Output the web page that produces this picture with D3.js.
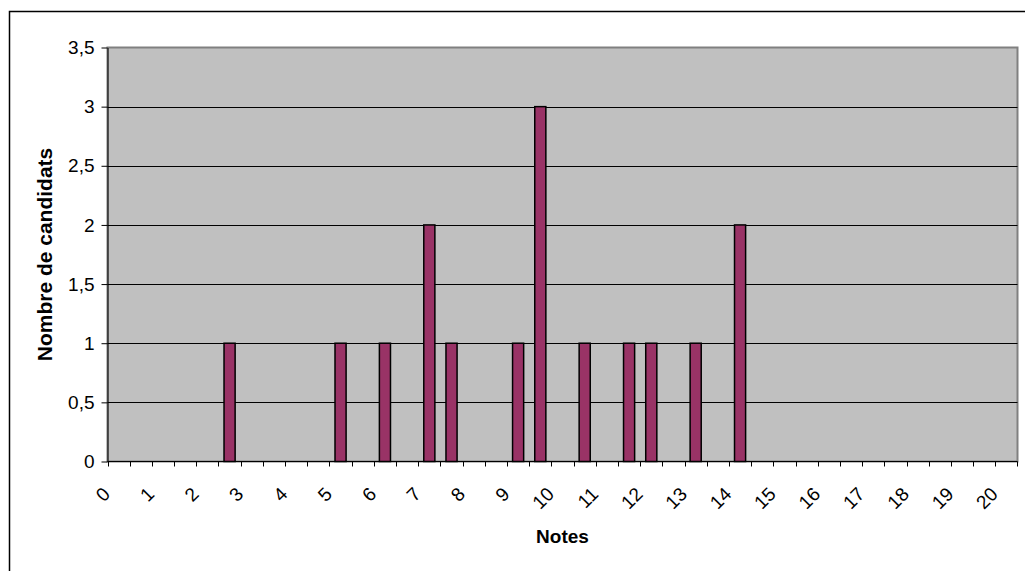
<!DOCTYPE html>
<html lang="fr">
<head>
    <meta charset="UTF-8">
    <title>Nombre de candidats par note</title>
    <style>
        body {
            margin: 0;
            background: #fff;
        }
        svg {
            display: block;
            font-family: "Liberation Sans", Arial, sans-serif;
        }
    </style>
</head>
<body>

<svg id="chart" width="1025" height="571"></svg>

<script src="https://d3js.org/d3.v7.min.js"></script>
<script>
    // Categories (notes, by half points) and counts
    const notes = [0, 0.5, 1, 1.5, 2, 2.5, 3, 3.5, 4, 4.5, 5, 5.5, 6, 6.5, 7, 7.5, 8, 8.5, 9, 9.5,
                   10, 10.5, 11, 11.5, 12, 12.5, 13, 13.5, 14, 14.5, 15, 15.5, 16, 16.5, 17, 17.5,
                   18, 18.5, 19, 19.5, 20];
    const candidats = [0, 0, 0, 0, 0, 1, 0, 0, 0, 0, 1, 0, 1, 0, 2, 1, 0, 0, 1, 3,
                       0, 1, 0, 1, 1, 0, 1, 0, 2, 0, 0, 0, 0, 0, 0, 0,
                       0, 0, 0, 0, 0];
    const xLabels = [0, 1, 2, 3, 4, 5, 6, 7, 8, 9, 10, 11, 12, 13, 14, 15, 16, 17, 18, 19, 20];
    const yTicks = [0, 0.5, 1, 1.5, 2, 2.5, 3, 3.5];

    const svg = d3.select("#chart");

    // plot area box
    const plot = {left: 107.5, top: 47.5, right: 1017.5, bottom: 461.5};

    // outer chart border
    svg.append("rect")
        .attr("x", 9.5).attr("y", 11.5)
        .attr("width", 1100).attr("height", 700)
        .style("fill", "#fff")
        .style("stroke", "#000")
        .style("stroke-width", 1.5);

    // one cell per category, ticks sit between cells
    const xCell = d3.scaleBand()
        .domain(notes)
        .range([plot.left, plot.right])
        .padding(0);

    // bars take half of each cell (gap width 100%)
    const x = d3.scaleBand()
        .domain(notes)
        .range([plot.left, plot.right])
        .paddingInner(0.5)
        .paddingOuter(0.25);

    const y = d3.scaleLinear()
        .domain([0, 3.5])
        .range([plot.bottom, plot.top]);

    const fmt = v => String(v).replace(".", ",");

    // grey plot background
    svg.append("rect")
        .attr("x", plot.left).attr("y", plot.top)
        .attr("width", plot.right - plot.left)
        .attr("height", plot.bottom - plot.top)
        .style("fill", "#c0c0c0")
        .style("stroke", "#808080")
        .style("stroke-width", 2);

    // horizontal gridlines
    svg.append("g")
        .selectAll("line")
        .data(yTicks.filter(v => v > 0 && v < 3.5))
        .enter().append("line")
        .attr("x1", plot.left).attr("x2", plot.right)
        .attr("y1", d => Math.round(y(d)) + 0.5)
        .attr("y2", d => Math.round(y(d)) + 0.5)
        .style("stroke", "#000")
        .style("stroke-width", 1);

    // bars
    svg.append("g")
        .selectAll("rect")
        .data(notes.map((n, i) => ({note: n, value: candidats[i]})).filter(d => d.value > 0))
        .enter().append("rect")
        .attr("x", d => x(d.note))
        .attr("y", d => y(d.value))
        .attr("width", x.bandwidth())
        .attr("height", d => y(0) - y(d.value))
        .style("fill", "#993366")
        .style("stroke", "#000")
        .style("stroke-width", 1.5);

    // y axis
    const yAxis = svg.append("g")
        .attr("transform", `translate(${plot.left},0)`)
        .call(d3.axisLeft(y).tickValues(yTicks).tickFormat(fmt).tickSize(6).tickSizeOuter(0).tickPadding(7));
    yAxis.select(".domain").style("stroke", "#000");
    yAxis.selectAll("text")
        .style("font-size", "19px")
        .style("fill", "#000");

    // x axis: ticks at cell boundaries
    const xAxis = svg.append("g");
    xAxis.append("line")
        .attr("x1", plot.left).attr("x2", plot.right)
        .attr("y1", plot.bottom).attr("y2", plot.bottom)
        .style("stroke", "#000");
    xAxis.selectAll(".tick")
        .data(notes.concat(["end"]))
        .enter().append("line")
        .attr("class", "tick")
        .attr("x1", d => d === "end" ? plot.right : Math.round(xCell(d)) + 0.5)
        .attr("x2", d => d === "end" ? plot.right : Math.round(xCell(d)) + 0.5)
        .attr("y1", plot.bottom)
        .attr("y2", plot.bottom + 5)
        .style("stroke", "#000");

    // rotated labels, one every two categories
    xAxis.selectAll("text")
        .data(xLabels)
        .enter().append("text")
        .attr("transform", d => `translate(${xCell(d) - 1},${plot.bottom + 29}) rotate(-45)`)
        .attr("dy", "0.35em")
        .style("text-anchor", "end")
        .style("font-size", "19px")
        .text(d => d);

    // axis titles
    svg.append("text")
        .attr("x", (plot.left + plot.right) / 2)
        .attr("y", 543)
        .style("text-anchor", "middle")
        .style("font-size", "19px")
        .style("font-weight", "bold")
        .text("Notes");

    svg.append("text")
        .attr("transform", `translate(52,${(plot.top + plot.bottom) / 2}) rotate(-90)`)
        .style("text-anchor", "middle")
        .style("font-size", "21px")
        .style("font-weight", "bold")
        .text("Nombre de candidats");
</script>
</body>
</html>
